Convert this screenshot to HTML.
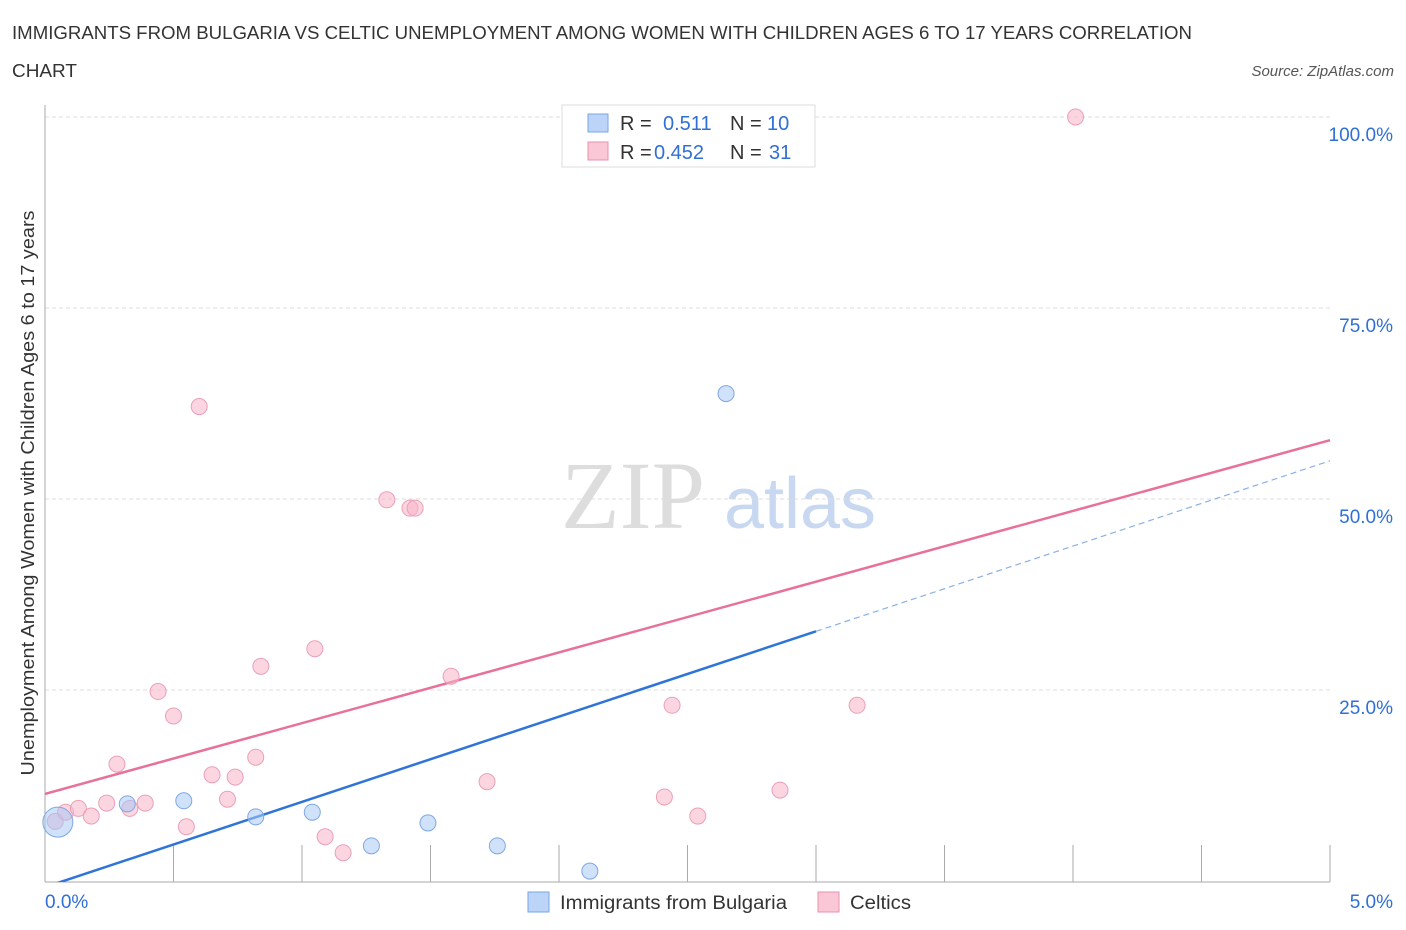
<!DOCTYPE html>
<html><head><meta charset="utf-8"><style>
body{margin:0;background:#fff;font-family:"Liberation Sans",sans-serif;}
</style></head><body>
<svg id="chart" width="1406" height="930" style="display:block">
<defs><clipPath id="plotclip"><rect x="45" y="100" width="1290" height="782"/></clipPath></defs>
<text x="12" y="39" font-size="18" fill="#333" textLength="1180" lengthAdjust="spacingAndGlyphs">IMMIGRANTS FROM BULGARIA VS CELTIC UNEMPLOYMENT AMONG WOMEN WITH CHILDREN AGES 6 TO 17 YEARS CORRELATION</text>
<text x="12" y="77" font-size="18" fill="#333" textLength="65" lengthAdjust="spacingAndGlyphs">CHART</text>
<text x="1394" y="76" font-size="15" fill="#555" font-style="italic" text-anchor="end">Source: ZipAtlas.com</text>
<text x="633" y="528" font-size="96" fill="#ddd" font-family="Liberation Serif,serif" text-anchor="middle">ZIP</text>
<text x="800" y="528" font-size="72" fill="#c8d8f0" text-anchor="middle">atlas</text>
<text transform="translate(34,493) rotate(-90)" font-size="18" fill="#333" text-anchor="middle" textLength="565" lengthAdjust="spacingAndGlyphs">Unemployment Among Women with Children Ages 6 to 17 years</text>
<g id="grid"></g><g id="axes"></g><g id="lines" clip-path="url(#plotclip)"></g><g id="pts"></g>
<g>
<rect x="562" y="105" width="253" height="62" fill="#fff" stroke="#ddd"/>
<rect x="588" y="114" width="20" height="18" fill="#bcd4f7" stroke="#7aa6e6"/>
<text x="620" y="130" font-size="20" fill="#333">R = </text><text x="663" y="130" font-size="20" fill="#2f6fd6">0.511</text>
<text x="730" y="130" font-size="20" fill="#333">N = </text><text x="767" y="130" font-size="20" fill="#2f6fd6">10</text>
<rect x="588" y="142" width="20" height="18" fill="#f9c7d5" stroke="#e891ab"/>
<text x="620" y="159" font-size="20" fill="#333">R = </text><text x="654" y="159" font-size="20" fill="#2f6fd6">0.452</text>
<text x="730" y="159" font-size="20" fill="#333">N = </text><text x="769" y="159" font-size="20" fill="#2f6fd6">31</text>
</g>
<g>
<rect x="528" y="892" width="21" height="20" fill="#bcd4f7" stroke="#7aa6e6"/>
<text x="560" y="909" font-size="19" fill="#333" textLength="227" lengthAdjust="spacingAndGlyphs">Immigrants from Bulgaria</text>
<rect x="818" y="892" width="21" height="20" fill="#f9c7d5" stroke="#e891ab"/>
<text x="850" y="909" font-size="19" fill="#333" textLength="61" lengthAdjust="spacingAndGlyphs">Celtics</text>
</g>
</svg>
<script>
const ns="http://www.w3.org/2000/svg";
const yTicks=[25,50,75,100];
const yTickLabels=["25.0%","50.0%","75.0%","100.0%"];
const xTickLabels=["0.0%","5.0%"];
const blueX=[0.05,0.32,0.54,0.82,1.04,1.27,1.49,1.76,2.12,2.65];
const blueY=[7.7,10.1,10.5,8.4,9.0,4.6,7.6,4.6,1.3,63.8];
const pinkX=[0.04,0.08,0.13,0.18,0.24,0.28,0.33,0.39,0.44,0.5,0.55,0.6,0.65,0.71,0.74,0.82,0.84,1.05,1.09,1.16,1.33,1.42,1.44,1.58,1.72,2.41,2.44,2.54,2.86,3.16,4.01];
const pinkY=[7.8,9.0,9.5,8.5,10.2,15.3,9.5,10.2,24.8,21.6,7.1,62.1,13.9,10.7,13.6,16.2,28.1,30.4,5.8,3.7,49.9,48.8,48.8,26.8,13.0,11.0,23.0,8.5,11.9,23.0,100.0];
const pinkTrend=[11.4,57.7];
const blueTrend=[-0.8,55.0];
const X=v=>45+v*257, Y=v=>881-v*7.64;
function el(t,a,p){const e=document.createElementNS(ns,t);for(const k in a)e.setAttribute(k,a[k]);document.getElementById(p).appendChild(e);return e;}
yTicks.forEach((t,i)=>{
 const g=el('line',{x1:45,x2:1330,y1:Y(t),y2:Y(t),stroke:'#ddd','stroke-dasharray':'4 3'},'grid');
 
 
 const tx=el('text',{x:1393,y:Y(t)+24,'font-size':19,fill:'#2f6fd6','text-anchor':'end'},'axes');
 tx.textContent=yTickLabels[i];
 
 
});
let ax=el('line',{x1:45,x2:45,y1:105,y2:882,stroke:'#aaa'},'axes');


ax=el('line',{x1:45,x2:1330,y1:882,y2:882,stroke:'#aaa'},'axes');


for(let i=1;i<=10;i++){const t=el('line',{x1:X(i*0.5),x2:X(i*0.5),y1:845,y2:882,stroke:'#aaa'},'axes');
 
 }
[[0,'start',45],[5,'end',1393]].forEach((d,i)=>{const t=el('text',{x:d[2],y:908,'font-size':19,fill:'#2f6fd6','text-anchor':d[1]},'axes');t.textContent=xTickLabels[i];
 
 });
let l=el('line',{x1:X(0),y1:Y(pinkTrend[0]),x2:X(5),y2:Y(pinkTrend[1]),stroke:'#e8719a','stroke-width':2.5},'lines');


const by=x=>blueTrend[0]+(blueTrend[1]-blueTrend[0])*x/5;
l=el('line',{x1:X(0),y1:Y(by(0)),x2:X(3),y2:Y(by(3)),stroke:'#2f74d8','stroke-width':2.5},'lines');


l=el('line',{x1:X(3),y1:Y(by(3)),x2:X(5),y2:Y(by(5)),stroke:'#8ab0e6','stroke-width':1.2,'stroke-dasharray':'6 4'},'lines');


pinkX.forEach((x,i)=>{const c=el('circle',{cx:X(x),cy:Y(pinkY[i]),r:8,fill:'rgba(247,180,200,0.55)',stroke:'#eba0b8'},'pts');
 
 });
blueX.forEach((x,i)=>{const c=el('circle',{cx:X(x),cy:Y(blueY[i]),r:i==0?15:8,fill:'rgba(170,200,245,0.55)',stroke:'#7ea8e4'},'pts');
 
 });
</script>
</body></html>
